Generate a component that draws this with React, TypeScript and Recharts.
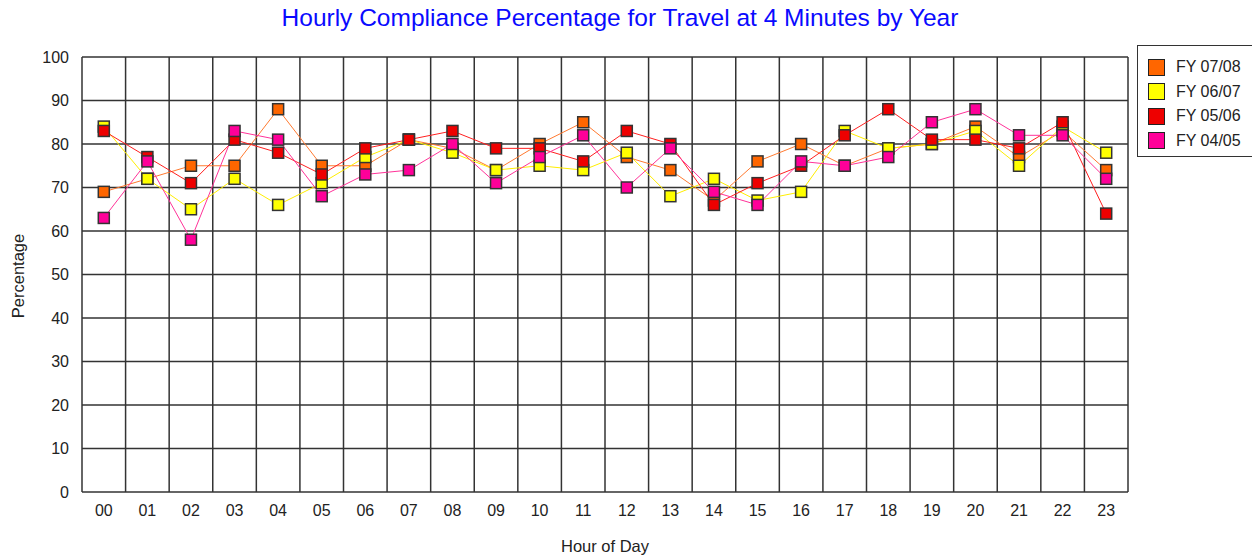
import { LineChart, Line, XAxis, YAxis, CartesianGrid } from 'recharts'

const hours = ['00', '01', '02', '03', '04', '05', '06', '07', '08', '09', '10', '11', '12', '13', '14', '15', '16', '17', '18', '19', '20', '21', '22', '23']

const fy0708 = [69, 72, 75, 75, 88, 75, 75, 81, 79, 74, 80, 85, 77, 74, 67, 76, 80, 75, 79, 80, 84, 77, 83, 74]
const fy0607 = [84, 72, 65, 72, 66, 71, 77, 81, 78, 74, 75, 74, 78, 68, 72, 67, 69, 83, 79, 80, 83, 75, 84, 78]
const fy0506 = [83, 77, 71, 81, 78, 73, 79, 81, 83, 79, 79, 76, 83, 80, 66, 71, 75, 82, 88, 81, 81, 79, 85, 64]
const fy0405 = [63, 76, 58, 83, 81, 68, 73, 74, 80, 71, 77, 82, 70, 79, 69, 66, 76, 75, 77, 85, 88, 82, 82, 72]

const yTicks = [0, 10, 20, 30, 40, 50, 60, 70, 80, 90, 100]

const series = [
  { key: 'fy0708', name: 'FY 07/08', fill: '#ff6600', line: '#ff7a30' },
  { key: 'fy0607', name: 'FY 06/07', fill: '#ffff00', line: '#ffee00' },
  { key: 'fy0506', name: 'FY 05/06', fill: '#ee0000', line: '#ff2020' },
  { key: 'fy0405', name: 'FY 04/05', fill: '#ff0099', line: '#ff3399' },
]

const data = hours.map((h, i) => ({
  hour: h,
  fy0708: fy0708[i],
  fy0607: fy0607[i],
  fy0506: fy0506[i],
  fy0405: fy0405[i],
}))

const FONT = '"Liberation Sans", Arial, sans-serif'

const square = (color: string) => (props: any) => {
  const { cx, cy, index } = props
  if (cx == null || cy == null) return <g key={index} />
  return (
    <rect
      key={index}
      x={cx - 5.5}
      y={cy - 5.5}
      width={11}
      height={11}
      fill={color}
      stroke="#333"
      strokeWidth={1.5}
    />
  )
}

// vertical grid lines sit between the hour bands, not on the points
const bandLines = ({ offset }: any) => {
  const step = offset.width / hours.length
  const out: number[] = []
  for (let i = 0; i <= hours.length; i++) out.push(offset.left + i * step)
  return out
}

export default function App() {
  return (
    <div style={{ position: 'absolute', left: 0, top: 0, width: 1252, height: 559, background: '#fff', fontFamily: FONT }}>
      <div style={{ position: 'absolute', left: 0, width: 1240, top: 4, textAlign: 'center', color: '#0a0aff', fontSize: 24.5 }}>
        Hourly Compliance Percentage for Travel at 4 Minutes by Year
      </div>
      <div
        style={{
          position: 'absolute',
          left: 18,
          top: 276,
          transform: 'translate(-50%, -50%) rotate(-90deg)',
          fontSize: 16.5,
          color: '#222',
          whiteSpace: 'nowrap',
        }}
      >
        Percentage
      </div>
      <div style={{ position: 'absolute', left: 505, width: 200, top: 537, textAlign: 'center', fontSize: 16.5, color: '#222' }}>
        Hour of Day
      </div>

      <LineChart
        width={1252}
        height={559}
        data={data}
        margin={{ top: 57, right: 124, bottom: 0, left: 0 }}
        style={{ fontFamily: FONT }}
      >
        <CartesianGrid stroke="#333" strokeWidth={1.5} verticalCoordinatesGenerator={bandLines} />
        <XAxis
          dataKey="hour"
          interval={0}
          padding={{ left: 21.8, right: 21.8 }}
          height={67}
          axisLine={false}
          tickLine={false}
          tickSize={0}
          tickMargin={13}
          tick={{ fill: '#222', fontSize: 16 }}
        />
        <YAxis
          width={82}
          domain={[0, 100]}
          ticks={yTicks}
          interval={0}
          axisLine={false}
          tickLine={false}
          tickSize={0}
          tickMargin={13}
          tick={{ fill: '#222', fontSize: 16 }}
        />
        {series.map(s => (
          <Line
            key={s.key}
            dataKey={s.key}
            name={s.name}
            stroke={s.line}
            strokeWidth={1}
            dot={square(s.fill)}
            activeDot={false}
            isAnimationActive={false}
          />
        ))}
      </LineChart>

      <div
        style={{
          position: 'absolute',
          left: 1137,
          top: 45,
          width: 118,
          height: 112,
          border: '1px solid #333',
          boxSizing: 'border-box',
          background: '#fff',
        }}
      >
        {series.map((s, i) => (
          <div key={s.key} style={{ position: 'absolute', left: 10, top: 12 + i * 24.5, display: 'flex', alignItems: 'center' }}>
            <span style={{ width: 15, height: 15, background: s.fill, border: '1px solid #222', display: 'inline-block' }} />
            <span style={{ marginLeft: 11, fontSize: 16, color: '#222' }}>{s.name}</span>
          </div>
        ))}
      </div>
    </div>
  )
}
